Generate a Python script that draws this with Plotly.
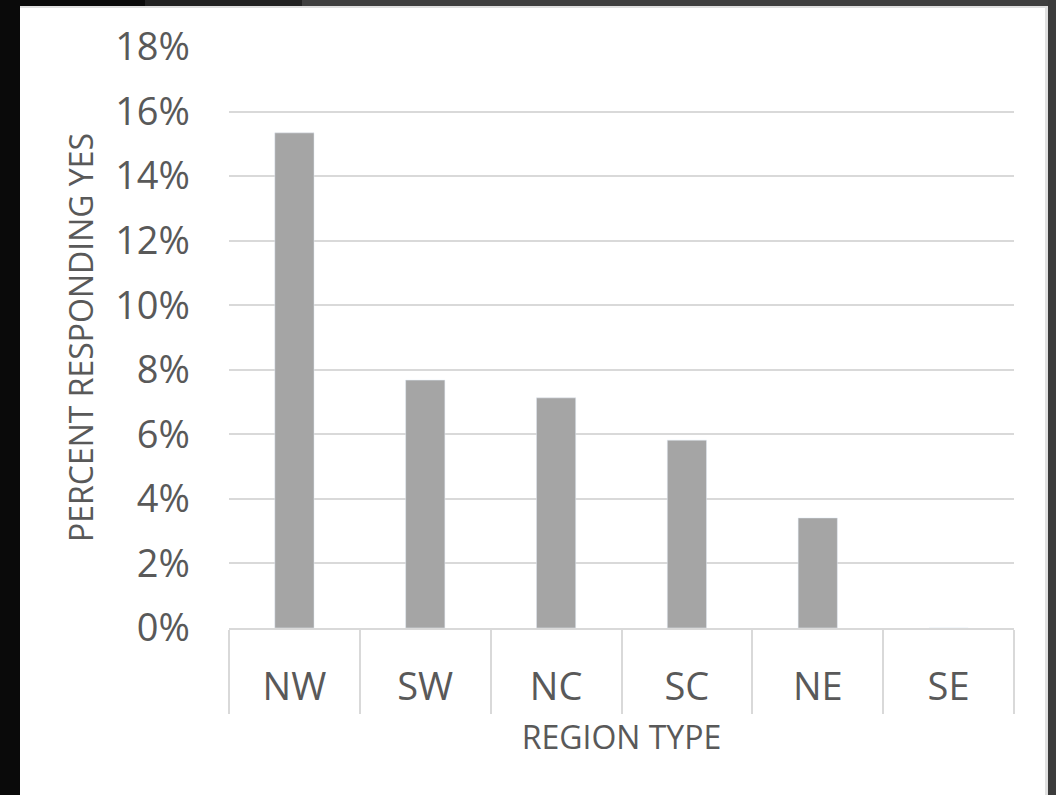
import plotly.graph_objects as go

regions = ["NW", "SW", "NC", "SC", "NE", "SE"]
percent_yes = [0.1534, 0.0768, 0.0713, 0.0582, 0.0341, 0.0]
y_ticks = [0, 0.02, 0.04, 0.06, 0.08, 0.10, 0.12, 0.14, 0.16, 0.18]

W, H = 1056, 795
L, R, T, B = 229, 1014, 47, 628
FONT = "Open Sans"
TXT = "#595959"
GRID = "#d9d9d9"

def px_x(p):
    return (p - L) / (R - L)

def px_y(p):
    return (B - p) / (B - T)

fig = go.Figure(go.Bar(x=regions, y=percent_yes, marker_color="#a5a5a5", width=0.3))

frame = [
    (20, 6, 1048, 8, "#e0e0e0"),
    (1045, 6, 1048, H, "#e0e0e0"),
    (0, 0, 20, H, "#0a0a0a"),
    (0, 0, 145, 6, "#0a0a0a"),
    (145, 0, 302, 6, "#222222"),
    (302, 0, W, 6, "#3f3f3f"),
    (1048, 0, W, H, "#3c3c3c"),
]
shapes = []
for x0, y0, x1, y1, c in frame:
    shapes.append(dict(type="rect", xref="paper", yref="paper",
                       x0=px_x(x0), x1=px_x(x1), y0=px_y(y1), y1=px_y(y0),
                       fillcolor=c, line_width=0, layer="above"))

fig.update_layout(
    width=W, height=H,
    margin=dict(l=L, r=W - R, t=T, b=H - B, autoexpand=False),
    paper_bgcolor="white", plot_bgcolor="white",
    font=dict(family=FONT, color=TXT),
    showlegend=False,
    shapes=shapes,
    bargap=0.7,
)
fig.update_xaxes(
    type="category", showline=True, linecolor=GRID, linewidth=1.5,
    ticks="outside", tickson="boundaries", ticklen=84, tickcolor=GRID, tickwidth=1.5,
    tickfont=dict(size=38, color=TXT, family=FONT), ticklabelstandoff=25,
    title=dict(text="REGION TYPE", font=dict(size=32, color=TXT, family=FONT), standoff=16),
    showgrid=False, automargin=False,
)
fig.update_yaxes(
    range=[0, 0.18], tickvals=y_ticks, tickformat=".0%",
    showgrid=True, gridcolor=GRID, gridwidth=1.5, zeroline=False, showline=False,
    tickfont=dict(size=38, color=TXT, family=FONT), ticklabelstandoff=38,
    title=dict(text="PERCENT RESPONDING YES", font=dict(size=32, color=TXT, family=FONT), standoff=11),
    automargin=False,
)

fig.write_html("out.html", config={"displayModeBar": False},
               post_script="document.body.style.margin='0';")
